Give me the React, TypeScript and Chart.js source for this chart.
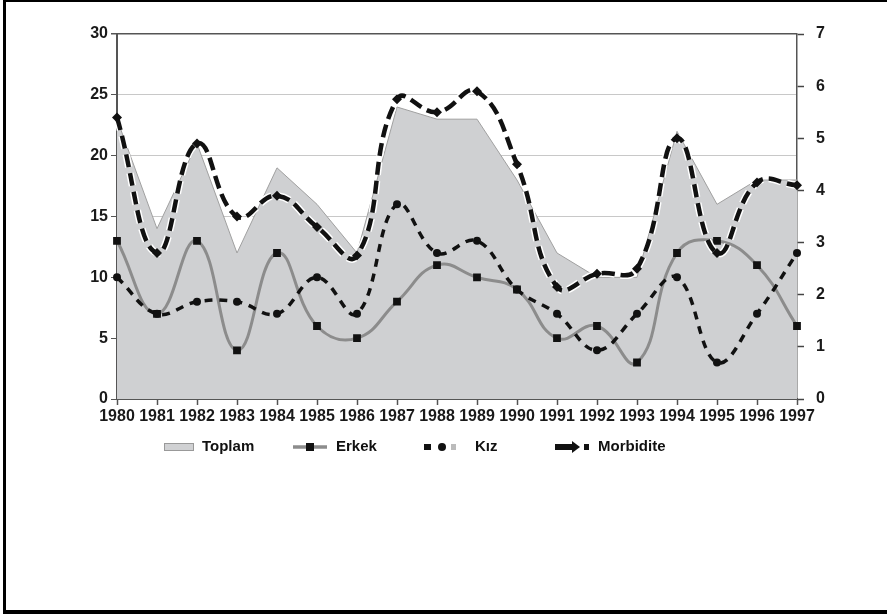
import React, { useEffect, useRef } from "react";
import { Chart, registerables } from "chart.js";

Chart.register(...registerables);

const years = ["1980","1981","1982","1983","1984","1985","1986","1987","1988","1989","1990","1991","1992","1993","1994","1995","1996","1997"];
const toplam = [23, 14, 21, 12, 19, 16, 12, 24, 23, 23, 18, 12, 10, 10, 22, 16, 18, 18];
const erkek = [13, 7, 13, 4, 12, 6, 5, 8, 11, 10, 9, 5, 6, 3, 12, 13, 11, 6];
const kiz = [10, 7, 8, 8, 7, 10, 7, 16, 12, 13, 9, 7, 4, 7, 10, 3, 7, 12];
const morbidite = [5.4, 2.8, 4.9, 3.5, 3.9, 3.3, 2.75, 5.75, 5.5, 5.9, 4.5, 2.15, 2.4, 2.5, 5.0, 2.8, 4.15, 4.1];
const leftTicks = [0, 5, 10, 15, 20, 25, 30];
const rightTicks = [0, 1, 2, 3, 4, 5, 6, 7];

const FONT = "'Liberation Sans', Arial, sans-serif";

const framePlugin = {
  id: "frame",
  beforeDraw(chart: any) {
    const ctx = chart.ctx;
    ctx.save();
    ctx.fillStyle = "#ffffff";
    ctx.fillRect(0, 0, chart.width, chart.height);
    ctx.fillStyle = "#000000";
    ctx.fillRect(3, 0, 3, 613);
    ctx.fillRect(3, 0, 884, 2);
    ctx.fillRect(3, 610, 884, 4);
    ctx.restore();
  },
};

const legendPlugin = {
  id: "customLegend",
  afterDraw(chart: any) {
    const ctx = chart.ctx;
    const y = chart.chartArea.bottom + 48;
    ctx.save();
    ctx.font = `bold 15px ${FONT}`;
    ctx.fillStyle = "#000";
    ctx.textBaseline = "middle";
    // Toplam
    ctx.fillStyle = "#d0d1d3";
    ctx.fillRect(164, y - 4, 30, 8);
    ctx.strokeStyle = "#999";
    ctx.lineWidth = 1;
    ctx.strokeRect(164.5, y - 3.5, 29, 7);
    ctx.fillStyle = "#111";
    ctx.fillText("Toplam", 202, y);
    // Erkek
    ctx.strokeStyle = "#8c8c8c";
    ctx.lineWidth = 3.5;
    ctx.beginPath();
    ctx.moveTo(293, y);
    ctx.lineTo(327, y);
    ctx.stroke();
    ctx.fillStyle = "#111";
    ctx.fillRect(306, y - 4, 8, 8);
    ctx.fillText("Erkek", 336, y);
    // Kız
    ctx.fillRect(424, y - 3, 7, 6);
    ctx.beginPath();
    ctx.arc(442, y, 4, 0, Math.PI * 2);
    ctx.fill();
    ctx.fillStyle = "#bbb";
    ctx.fillRect(451, y - 3, 5, 6);
    ctx.fillStyle = "#111";
    ctx.fillText("Kız", 475, y);
    // Morbidite
    ctx.fillRect(555, y - 3, 18, 6);
    ctx.beginPath();
    ctx.moveTo(572, y - 6);
    ctx.lineTo(580, y);
    ctx.lineTo(572, y + 6);
    ctx.closePath();
    ctx.fill();
    ctx.fillRect(584, y - 3, 5, 6);
    ctx.fillText("Morbidite", 598, y);
    ctx.restore();
  },
};

export default function App() {
  const ref = useRef<HTMLCanvasElement | null>(null);

  useEffect(() => {
    if (!ref.current) return;
    document.body.style.margin = "0";
    const chart = new Chart(ref.current, {
      type: "line",
      data: {
        labels: years,
        datasets: [
          {
            label: "Morbidite",
            data: morbidite,
            yAxisID: "y1",
            borderColor: "#111",
            borderWidth: 4.5,
            borderDash: [13, 6],
            borderCapStyle: "butt",
            tension: 0.45,
            pointStyle: "rectRot",
            pointRadius: 5,
            pointBackgroundColor: "#111",
            pointBorderColor: "#111",
            pointBorderWidth: 0,
            fill: false,
            order: 1,
          },
          {
            label: "_halo",
            data: morbidite,
            yAxisID: "y1",
            borderColor: "#ffffff",
            borderWidth: 7.5,
            borderDash: [13, 6],
            borderCapStyle: "butt",
            tension: 0.45,
            pointRadius: 0,
            fill: false,
            order: 2,
          },
          {
            label: "Kız",
            data: kiz,
            yAxisID: "y",
            borderColor: "#111",
            borderWidth: 3.5,
            borderDash: [8, 7],
            tension: 0.4,
            pointStyle: "circle",
            pointRadius: 4,
            pointBackgroundColor: "#111",
            pointBorderWidth: 0,
            fill: false,
            order: 3,
          },
          {
            label: "Erkek",
            data: erkek,
            yAxisID: "y",
            borderColor: "#8c8c8c",
            borderWidth: 3,
            tension: 0.45,
            pointStyle: "rect",
            pointRadius: 5.5,
            pointBackgroundColor: "#111",
            pointBorderWidth: 0,
            fill: false,
            order: 4,
          },
          {
            label: "Toplam",
            data: toplam,
            yAxisID: "y",
            borderColor: "#a0a0a0",
            borderWidth: 1,
            backgroundColor: "#cfd0d2",
            tension: 0,
            pointRadius: 0,
            fill: "origin",
            order: 5,
          },
        ],
      },
      options: {
        animation: false,
        responsive: false,
        maintainAspectRatio: false,
        layout: { padding: { top: 34, bottom: 185, left: 0, right: 0 } },
        plugins: {
          legend: { display: false },
          tooltip: { enabled: false },
        },
        scales: {
          x: {
            offset: false,
            grid: { drawOnChartArea: false, tickLength: 6, tickColor: "#555", tickWidth: 1.5 },
            border: { color: "#555", width: 2 },
            ticks: {
              autoSkip: false,
              maxRotation: 0,
              padding: 2,
              color: "#1a1a1a",
              font: { family: FONT, weight: "bold", size: 16 },
            },
            afterFit(s: any) { s.height = 30; },
          },
          y: {
            position: "left",
            min: 0,
            max: 30,
            afterBuildTicks(s: any) { s.ticks = leftTicks.map((v) => ({ value: v })); },
            grid: {
              color: (c: any) => (c.tick && (c.tick.value === 30 || c.tick.value === 0) ? "#555" : "#c8c8c8"),
              lineWidth: (c: any) => (c.tick && c.tick.value === 30 ? 1.5 : 1),
              tickLength: 6,
              tickColor: "#555",
            },
            border: { color: "#555", width: 2 },
            ticks: {
              padding: 3,
              color: "#1a1a1a",
              font: { family: FONT, weight: "bold", size: 16 },
            },
            afterFit(s: any) { s.width = 117; },
          },
          y1: {
            position: "right",
            min: 0,
            max: 7,
            afterBuildTicks(s: any) { s.ticks = rightTicks.map((v) => ({ value: v })); },
            grid: { drawOnChartArea: false, tickLength: 7, tickColor: "#444", tickWidth: 1.5 },
            border: { color: "#555", width: 1.5 },
            ticks: {
              padding: 12,
              color: "#1a1a1a",
              font: { family: FONT, weight: "bold", size: 16 },
            },
            afterFit(s: any) { s.width = 90; },
          },
        },
      },
      plugins: [framePlugin, legendPlugin],
    } as any);
    return () => chart.destroy();
  }, []);

  return (
    <div style={{ position: "absolute", left: 0, top: 0, width: 887, height: 614 }}>
      <canvas ref={ref} width={887} height={614} style={{ width: 887, height: 614, display: "block" }} />
    </div>
  );
}
